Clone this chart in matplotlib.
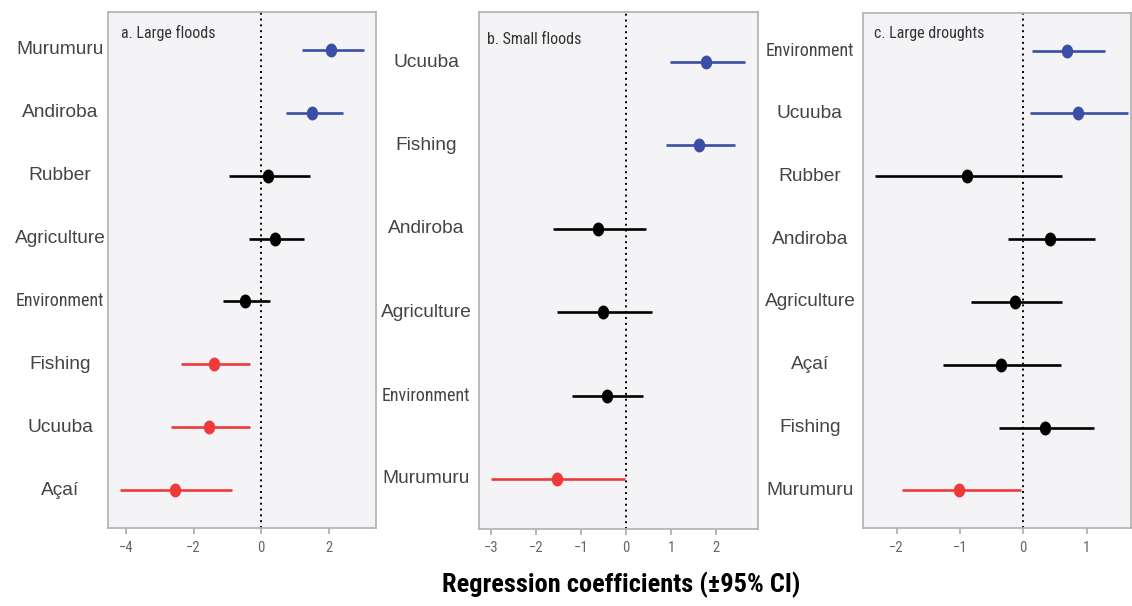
import matplotlib
matplotlib.use("Agg")
import matplotlib.pyplot as plt
from matplotlib import font_manager
from matplotlib.path import Path
from matplotlib.transforms import Affine2D

# dados
cats_a = ["Murumuru", "Andiroba", "Rubber", "Agriculture", "Environment", "Fishing", "Ucuuba", "Açaí"]
coef_a = [2.07, 1.51, 0.21, 0.41, -0.47, -1.39, -1.54, -2.54]
lo_a = [1.21, 0.74, -0.95, -0.36, -1.12, -2.37, -2.66, -4.17]
hi_a = [3.05, 2.43, 1.45, 1.27, 0.27, -0.33, -0.33, -0.86]
sig_a = ["pos", "pos", "ns", "ns", "ns", "neg", "neg", "neg"]

cats_b = ["Ucuuba", "Fishing", "Andiroba", "Agriculture", "Environment", "Murumuru"]
coef_b = [1.78, 1.62, -0.62, -0.51, -0.42, -1.53]
lo_b = [0.98, 0.89, -1.62, -1.53, -1.20, -3.00]
hi_b = [2.64, 2.42, 0.44, 0.58, 0.38, -0.02]
sig_b = ["pos", "pos", "ns", "ns", "ns", "neg"]

cats_c = ["Environment", "Ucuuba", "Rubber", "Andiroba", "Agriculture", "Açaí", "Fishing", "Murumuru"]
coef_c = [0.69, 0.86, -0.89, 0.42, -0.13, -0.35, 0.34, -1.02]
lo_c = [0.14, 0.10, -2.34, -0.24, -0.83, -1.26, -0.39, -1.92]
hi_c = [1.29, 1.65, 0.61, 1.13, 0.61, 0.59, 1.12, -0.04]
sig_c = ["pos", "pos", "ns", "ns", "ns", "ns", "ns", "neg"]

ticks_a = [-4, -2, 0, 2]
ticks_b = [-3, -2, -1, 0, 1, 2]
ticks_c = [-2, -1, 0, 1]

cores = {"pos": "#3a4ea6", "neg": "#ee3a3a", "ns": "black"}

# fonte estreita (tipo Arial Narrow), a primeira que existir
nomes = {f.name for f in font_manager.fontManager.ttflist}
narrow = "DejaVu Sans"
for nome in ["Liberation Sans Narrow", "Roboto Condensed", "Archivo Narrow", "Arimo"]:
    if nome in nomes:
        narrow = nome
        break
plt.rcParams["font.family"] = ["Liberation Sans", "DejaVu Sans"]

W, H = 1132, 606
fig = plt.figure(figsize=(W / 100, H / 100), dpi=100)

def caixa(l, r, t, b):
    return [l / W, 1 - b / H, (r - l) / W, (b - t) / H]

dot = Path.unit_circle().transformed(Affine2D().scale(0.8, 1.0))

def painel(box, cats, coef, lo, hi, sig, xlim, ticks, titulo, tit_xy, lab_x):
    ax = fig.add_axes(box)
    ax.set_facecolor("#f4f4f7")
    n = len(cats)
    ys = list(range(n - 1, -1, -1))
    ax.axvline(0, color="black", lw=1.4, ls=(0, (1, 2)), zorder=1)
    for y, c, l, h, s in zip(ys, coef, lo, hi, sig):
        ax.plot([l, h], [y, y], color=cores[s], lw=1.9, zorder=2, solid_capstyle="butt")
        ax.plot(c, y, marker=dot, ms=9, color=cores[s], zorder=3)
    ax.set_xlim(xlim)
    ax.set_ylim(-0.6, n - 0.4)
    ax.set_xticks(ticks)
    ax.set_xticklabels([str(t).replace("-", "\u2212") for t in ticks],
                       family=narrow, fontsize=10.5, color="#666666")
    ax.tick_params(axis="x", length=4, width=1.2, color="#aaaaaa", pad=5)
    ax.set_yticks([])
    for sp in ax.spines.values():
        sp.set_color("#b5b5b5")
        sp.set_linewidth(1.3)
    # rotulos das categorias, centralizados
    for y, nome in zip(ys, cats):
        if nome == "Environment":
            ax.text(lab_x, y, nome, transform=ax.get_yaxis_transform(), ha="center", va="center",
                    family=narrow, fontsize=13, color="#444444")
        else:
            ax.text(lab_x, y, nome, transform=ax.get_yaxis_transform(), ha="center", va="center",
                    fontsize=13.8, color="#444444")
    ax.text(tit_xy[0], tit_xy[1], titulo, transform=ax.transAxes, ha="left", va="center",
            family=narrow, fontsize=11.5, color="#333333")
    return ax

painel(caixa(108, 376, 12, 528), cats_a, coef_a, lo_a, hi_a, sig_a,
       (-4.53, 3.40), ticks_a, "a. Large floods", (0.049, 0.959), -0.179)
painel(caixa(479, 758, 12, 529), cats_b, coef_b, lo_b, hi_b, sig_b,
       (-3.27, 2.93), ticks_b, "b. Small floods", (0.029, 0.946), -0.19)
painel(caixa(863, 1131, 13, 528), cats_c, coef_c, lo_c, hi_c, sig_c,
       (-2.53, 1.70), ticks_c, "c. Large droughts", (0.041, 0.961), -0.198)

fig.text(621 / W, 1 - 585 / H, "Regression coefficients (\u00b195% CI)", ha="center", va="center",
         family=narrow, fontsize=19, fontweight="bold", color="black")

fig.savefig("out.png", dpi=100)
